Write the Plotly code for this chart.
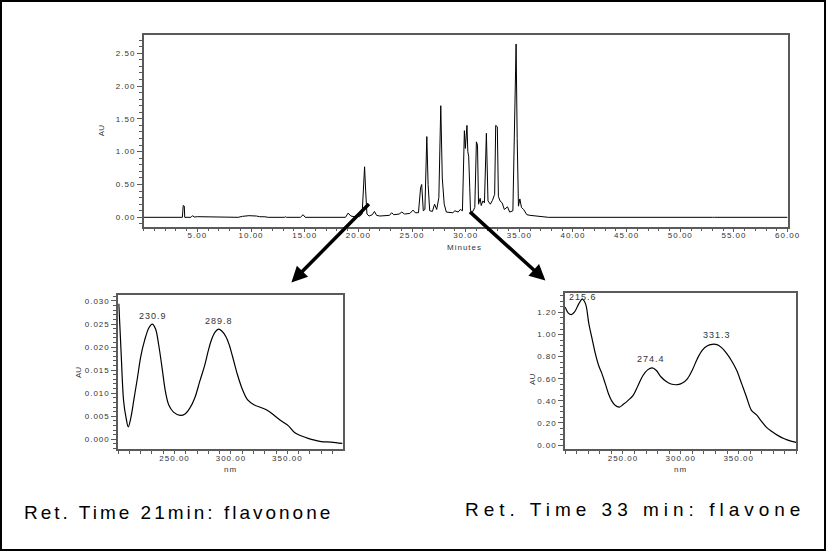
import plotly.graph_objects as go

W, H = 839, 552

# ---------------- data ----------------
# Main chromatogram (retention time in minutes, absorbance AU)
rt_min = [0, 3.6, 3.68, 3.78, 3.82, 4.4, 4.55, 4.7, 5.0, 5.6, 5.8, 8.8, 9.2, 9.8, 10.5, 10.8,
          11.3, 11.6, 13.1, 13.2, 13.3, 14.6, 14.85, 15.05, 18.8, 19.05, 19.3, 19.6, 19.9, 20.1,
          20.35, 20.5, 20.58, 20.68, 20.8, 21.0, 21.3, 21.5, 21.7, 22.0, 22.5, 22.9, 23.1, 23.3,
          23.8, 24.05, 24.3, 24.8, 25.1, 25.3, 25.6, 25.8, 25.9, 25.97, 26.05, 26.2, 26.38, 26.5,
          26.65, 26.9, 27.1, 27.3, 27.5, 27.68, 27.82, 28.0, 28.2, 28.8, 29.0, 29.3, 29.5, 29.7,
          29.88, 29.97, 30.05, 30.12, 30.2, 30.28, 30.38, 30.45, 30.6, 30.85, 31.0, 31.1, 31.2,
          31.35, 31.45, 31.6, 31.75, 31.93, 32.08, 32.3, 32.5, 32.7, 32.8, 32.95, 33.05, 33.2,
          33.4, 33.6, 33.9, 34.1, 34.4, 34.6, 34.7, 34.8, 34.92, 35.05, 35.2, 35.4, 35.7, 36.0,
          36.5, 37.0, 37.7, 53.0, 53.1, 53.2, 60.0]
au = [0, 0, 0.18, 0.17, 0, 0, 0.025, 0.005, 0.01, 0.008, 0, 0, 0.015, 0.025, 0.02, 0.01,
      0.008, 0, 0, 0.008, 0, 0, 0.04, 0, 0, 0.065, 0.02, 0.01, 0.03, 0.01,
      0.05, 0.70, 0.77, 0.40, 0.05, 0.02, 0.04, 0.09, 0.03, 0.02, 0.03, 0.03, 0.07, 0.04,
      0.05, 0.08, 0.05, 0.06, 0.11, 0.07, 0.07, 0.45, 0.50, 0.30, 0.10, 0.12, 1.23, 0.50,
      0.10, 0.09, 0.20, 0.12, 0.30, 1.70, 0.60, 0.20, 0.08, 0.07, 0.10, 0.08, 0.12, 0.10,
      1.32, 1.05, 1.30, 1.40, 1.00, 0.93, 0.45, 0.10, 0.07, 0.15, 1.15, 1.10, 0.20,
      0.29, 0.18, 0.25, 0.22, 1.28, 0.25, 0.20, 0.26, 0.35, 1.40, 1.38, 0.32, 0.25,
      0.22, 0.12, 0.16, 0.08, 0.10, 1.50, 2.64, 1.20, 0.17, 0.28, 0.15, 0.12, 0.04, 0.03,
      0.02, 0.02, 0, 0, 0.005, 0, 0]

# UV spectrum at 21 min (flavonone)
nm_21 = [200.6, 202.6, 204.9, 207.0, 209.0, 211.3, 214.2, 217.1, 220.0, 223.5, 227.3, 230.2,
         233.1, 236.0, 239.0, 241.9, 244.8, 249.1, 255.0, 259.3, 263.7, 268.0, 272.4, 276.8,
         279.7, 282.6, 286.1, 289.0, 291.9, 295.7, 298.6, 301.5, 305.8, 310.2, 314.6, 320.4,
         327.7, 333.5, 339.3, 345.1, 351.0, 356.7, 362.6, 368.4, 374.2, 380.0, 388.7, 398.9]
au_21 = [0.0294, 0.0190, 0.0082, 0.0047, 0.0027, 0.0047, 0.0090, 0.0133, 0.0179, 0.0215, 0.0242,
         0.0250, 0.0240, 0.0204, 0.0154, 0.0104, 0.0075, 0.0059, 0.0052, 0.0055, 0.0068, 0.0090,
         0.0126, 0.0161, 0.0190, 0.0215, 0.0233, 0.0239, 0.0235, 0.0222, 0.0204, 0.0179, 0.0140,
         0.0108, 0.0086, 0.0075, 0.0068, 0.0061, 0.0050, 0.0039, 0.0029, 0.0014, 0.0007, 0.0002,
         -0.0002, -0.0005, -0.0006, -0.0009]

# UV spectrum at 33 min (flavone)
nm_33 = [200.0, 202.6, 205.4, 208.2, 211.9, 214.8, 217.6, 220.5, 223.3, 226.1, 229.0, 231.8,
         234.7, 237.5, 240.3, 243.2, 246.9, 250.3, 254.5, 258.8, 263.1, 267.3, 271.6, 275.3,
         278.7, 283.0, 287.2, 291.5, 297.2, 301.4, 305.7, 309.9, 314.2, 318.5, 322.7, 327.0,
         331.3, 335.5, 339.8, 344.0, 348.3, 352.6, 356.8, 361.1, 365.3, 369.6, 373.9, 378.1,
         383.8, 389.5, 395.2, 399.7]
au_33 = [1.25, 1.196, 1.18, 1.205, 1.28, 1.32, 1.28, 1.10, 0.964, 0.83, 0.72, 0.647,
         0.556, 0.465, 0.40, 0.36, 0.344, 0.369, 0.405, 0.45, 0.54, 0.63, 0.683, 0.698,
         0.677, 0.616, 0.577, 0.553, 0.547, 0.562, 0.60, 0.677, 0.78, 0.858, 0.897, 0.912,
         0.909, 0.88, 0.828, 0.761, 0.677, 0.556, 0.435, 0.314, 0.275, 0.218, 0.163, 0.127,
         0.088, 0.057, 0.036, 0.024]

peaks_21_nm = [230.9, 289.8]
peaks_21_au = [0.0250, 0.0239]
peaks_33_nm = [215.6, 274.4, 331.3]
peaks_33_au = [1.32, 0.698, 0.912]

main_xticks = [5, 10, 15, 20, 25, 30, 35, 40, 45, 50, 55, 60]
main_xlabels = ["5.00", "10.00", "15.00", "20.00", "25.00", "30.00", "35.00", "40.00",
                "45.00", "50.00", "55.00", "60.00"]
main_yticks = [0, 0.5, 1.0, 1.5, 2.0, 2.5]
main_ylabels = ["0.00", "0.50", "1.00", "1.50", "2.00", "2.50"]
nm_ticks = [250, 300, 350]
nm_labels = ["250.00", "300.00", "350.00"]
y21_ticks = [0, 0.005, 0.010, 0.015, 0.020, 0.025, 0.030]
y21_labels = ["0.000", "0.005", "0.010", "0.015", "0.020", "0.025", "0.030"]
y33_ticks = [0, 0.2, 0.4, 0.6, 0.8, 1.0, 1.2]
y33_labels = ["0.00", "0.20", "0.40", "0.60", "0.80", "1.00", "1.20"]

caption_left = "Ret. Time 21min: flavonone"
caption_right = "Ret. Time 33 min: flavone"

# ---------------- helpers ----------------
FONT = "Liberation Sans, Arial, sans-serif"
AXC = "#5a5a5a"
TXT = "#333333"


def sp(t, ls=1):
    return "<span style='letter-spacing:%spx'>%s</span>" % (ls, t)


def fx(p):
    return p / W


def fy(p):
    return 1 - p / H


def axis(domain, rng, tv, tt, minor_dtick, ticklen=5, standoff=0):
    return dict(domain=domain, range=rng, tickmode="array", tickvals=tv,
                ticktext=[sp(t) for t in tt], ticks="outside", ticklen=ticklen,
                tickwidth=1, tickcolor=AXC, showline=True, linecolor=AXC, linewidth=1.5,
                mirror=True, showgrid=False, zeroline=False, ticklabelstandoff=standoff,
                tickfont=dict(family=FONT, size=8, color=TXT),
                minor=dict(ticks="outside", ticklen=3, tickwidth=1, tickcolor=AXC,
                           dtick=minor_dtick, tick0=0, showgrid=False))


fig = go.Figure()
fig.add_trace(go.Scatter(x=rt_min, y=au, mode="lines", line=dict(color="black", width=1),
                         xaxis="x", yaxis="y", hoverinfo="skip"))
fig.add_trace(go.Scatter(x=nm_21, y=au_21, mode="lines", line=dict(color="black", width=1.2, shape="spline"),
                         xaxis="x2", yaxis="y2", hoverinfo="skip"))
fig.add_trace(go.Scatter(x=nm_33, y=au_33, mode="lines", line=dict(color="black", width=1.2, shape="spline"),
                         xaxis="x3", yaxis="y3", hoverinfo="skip"))

layout = dict(
    width=W, height=H, margin=dict(l=0, r=0, t=0, b=0),
    paper_bgcolor="white", plot_bgcolor="white", showlegend=False,
    xaxis=axis([fx(146), fx(800)], [0, 60], main_xticks, main_xlabels, 1, 4, -4),
    yaxis=axis([fy(227), fy(35)], [-0.141, 2.778], main_yticks, main_ylabels, 0.1, 5),
    xaxis2=axis([fx(120), fx(348)], [200, 399], nm_ticks, nm_labels, 10, 3, -3),
    yaxis2=axis([fy(450), fy(296)], [-0.00215, 0.0312], y21_ticks, y21_labels, 0.001, 5),
    xaxis3=axis([fx(574), fx(809)], [200, 400], nm_ticks, nm_labels, 10, 3, -3),
    yaxis3=axis([fy(450), fy(294)], [-0.037, 1.372], y33_ticks, y33_labels, 0.05, 5),
)
layout["xaxis2"]["anchor"] = "y2"
layout["yaxis2"]["anchor"] = "x2"
layout["xaxis3"]["anchor"] = "y3"
layout["yaxis3"]["anchor"] = "x3"
fig.update_layout(**layout)

ann = []
small = dict(family=FONT, size=8, color=TXT)


def label(text, x, y, angle=0):
    return dict(text=text, x=fx(x), y=fy(y), xref="paper", yref="paper", showarrow=False,
                textangle=angle, font=small, xanchor="center", yanchor="middle")


# axis titles
ann.append(label(sp("AU", 0), 103, 131, -90))
ann.append(label(sp("Minutes"), 472, 248))
ann.append(label(sp("AU", 0), 80, 373, -90))
ann.append(label(sp("nm"), 234, 470))
ann.append(label(sp("AU", 0), 541, 380, -90))
ann.append(label(sp("nm"), 691, 470))

# peak labels
lab = dict(family=FONT, size=9, color=TXT)
for xv, yv in zip(peaks_21_nm, peaks_21_au):
    ann.append(dict(text=sp("%.1f" % xv), x=xv, y=yv, xref="x2", yref="y2", showarrow=False,
                    xanchor="center", yanchor="bottom", yshift=1, font=lab))
for i, (xv, yv) in enumerate(zip(peaks_33_nm, peaks_33_au)):
    ann.append(dict(text=sp("%.1f" % xv), x=xv, y=yv, xref="x3", yref="y3", showarrow=False,
                    xanchor="center", yanchor="middle" if i == 0 else "bottom",
                    yshift=2, font=lab))

# arrows
ann.append(dict(text="", x=fx(296), y=fy(283), xref="paper", yref="paper", showarrow=True,
                ax=79, ay=-80, arrowhead=2, arrowsize=0.9, arrowwidth=3.5, arrowcolor="black"))
ann.append(dict(text="", x=fx(554), y=fy(281), xref="paper", yref="paper", showarrow=True,
                ax=-77, ay=-70, arrowhead=2, arrowsize=0.9, arrowwidth=3.5, arrowcolor="black"))

# captions
cap = dict(family="Liberation Sans, Arial", size=19, color="black")
ann.append(dict(text=sp(caption_left, 3), x=fx(22), y=fy(513), xref="paper", yref="paper",
                showarrow=False, xanchor="left", yanchor="middle", font=cap))
ann.append(dict(text=sp(caption_right, 5), x=fx(470), y=fy(510), xref="paper", yref="paper",
                showarrow=False, xanchor="left", yanchor="middle", font=cap))

fig.update_layout(annotations=ann)

# outer border
fig.add_shape(type="rect", xref="paper", yref="paper", x0=fx(1), y0=fy(551), x1=fx(838), y1=fy(1),
              line=dict(color="black", width=2))

fig.write_html("out.html")
